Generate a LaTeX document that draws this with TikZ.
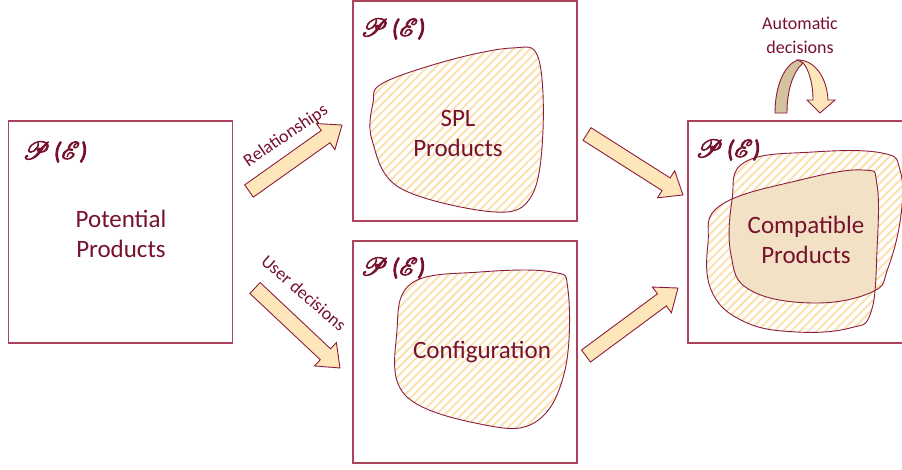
\documentclass[tikz,border=0pt]{standalone}
\usepackage{fontspec}
\setmainfont{Carlito}
\usepackage{mathrsfs}
\usetikzlibrary{calc,patterns.meta}

\definecolor{textred}{RGB}{118,18,46}
\definecolor{framered}{RGB}{172,66,92}
\definecolor{edgered}{RGB}{140,30,60}
\definecolor{hatchor}{RGB}{251,222,170}
\definecolor{arrowfill}{RGB}{253,230,186}
\definecolor{tanback}{RGB}{212,194,158}
\definecolor{tanfill}{RGB}{242,225,197}

\tikzset{
  pebox/.style={draw=framered, line width=1.3pt, minimum width=224pt, minimum height=222pt, inner sep=0pt},
  setlabel/.style={text=textred, font=\fontsize{24}{24}\selectfont, inner sep=0pt},
  maintext/.style={text=textred, font=\fontsize{25}{30}\selectfont, align=center, inner sep=0pt},
  arrowtext/.style={text=textred, font=\fontsize{18}{24}\selectfont, align=center, inner sep=0pt},
  hatched/.style={pattern={Lines[angle=45,distance=6pt,line width=1.8pt]}, pattern color=hatchor},
  blobedge/.style={draw=edgered, line width=0.9pt},
  barrow/.style={draw=edgered, line width=0.9pt, fill=arrowfill, line join=miter},
}

% power-set label P(E), stroked as well as filled for a heavier look
\newcommand\pofe{\special{pdf:literal direct 1 j 0.9 w 2 Tr}%
  $\mathscr{P}$\,\textit{(}$\mathscr{E}$\textit{)}%
  \special{pdf:literal direct 0 Tr 0.4 w}}

% straight block arrow from #1 (tail) to #2 (tip)
\newcommand\blockarrow[2]{%
  \path let \p1=($(#2)-(#1)$) in \pgfextra{%
    \pgfmathparse{atan2(\y1,\x1)}\xdef\barang{\pgfmathresult}%
    \pgfmathparse{veclen(\x1,\y1)}\xdef\barlen{\pgfmathresult}};
  \draw[barrow, shift={(#1)}, rotate=\barang]
    (0pt,7.5pt) -- (\barlen pt-20pt,7.5pt) -- (\barlen pt-20pt,16pt) -- (\barlen pt,0pt)
    -- (\barlen pt-20pt,-16pt) -- (\barlen pt-20pt,-7.5pt) -- (0pt,-7.5pt) -- cycle;
}

\begin{document}
\begin{tikzpicture}[x=1pt,y=-1pt]
\clip (0,0) rectangle (902,469);
\fill[white] (0,0) rectangle (902,469);

% the four sets
\node[pebox] (pot) at (120.5,232) {};
\node[pebox, minimum height=220pt] (spl) at (465,111) {};
\node[pebox] (cfg) at (465,352) {};
\node[pebox] (cmp) at (800,232) {};

% SPL products
\draw[hatched, blobedge] plot[smooth cycle, tension=0.6] coordinates
  {(383,83) (450,60) (512,48) (538,57) (543,130) (532,195) (495,212) (400,188) (372,140) (373,103)};
% configuration
\draw[hatched, blobedge] plot[smooth cycle, tension=0.65] coordinates
  {(412,283) (480,272) (552,272) (568,290) (565,370) (537,421) (485,425) (405,395) (397,330)};

% compatible products: two overlapping regions and their intersection
\def\regionA{plot[smooth cycle, tension=0.7] coordinates
  {(745,162) (813,152) (882,153) (900,170) (901,215) (888,268) (872,292) (813,303) (750,290) (731,255) (732,200)}}
\def\regionB{plot[smooth cycle, tension=0.7] coordinates
  {(708,243) (721,205) (800,180) (863,170) (877,185) (877,250) (871,312) (850,328) (797,332) (745,322) (712,292)}}
\fill[hatched] \regionA;
\fill[hatched] \regionB;
\begin{scope}
  \clip \regionA;
  \fill[tanfill] \regionB;
\end{scope}
\draw[blobedge] \regionA;
\draw[blobedge] \regionB;

% labels
\node[setlabel] (pe1) at (55,152) {\pofe};
\node[setlabel] (pe2) at (393,29) {\pofe};
\node[setlabel] (pe3) at (393,268) {\pofe};
\node[setlabel] (pe4) at (728,150) {\pofe};

\node[maintext] (tpot) at (121,234) {Potential\\Products};
\node[maintext] (tspl) at (458,133) {SPL\\Products};
\node[maintext] (tcfg) at (482,352) {Configuration};
\node[maintext] (tcmp) at (806,240) {Compatible\\Products};

% transitions
\coordinate (r0) at (249,191); \coordinate (r1) at (342,125);
\coordinate (u0) at (255,288); \coordinate (u1) at (340,368);
\coordinate (s0) at (587,134); \coordinate (s1) at (683,195);
\coordinate (c0) at (586,356); \coordinate (c1) at (678,288);
\blockarrow{r0}{r1}
\blockarrow{u0}{u1}
\blockarrow{s0}{s1}
\blockarrow{c0}{c1}

\node[arrowtext, rotate=34] (lrel) at (286,136) {Relationships};
\node[arrowtext, rotate=-41] (luser) at (304,293) {User decisions};
\node[arrowtext] (lauto) at (800,35) {Automatic\\decisions};

% curved arrow for automatic decisions
\draw[barrow] (798,60) .. controls (815,60) and (827,78) .. (828,100) -- (835,100) -- (820,113)
  -- (807,100) -- (813,100) .. controls (813,82) and (808,68) .. (803,63) -- cycle;
\draw[barrow, fill=tanback] (775,113) .. controls (775,85) and (785,64) .. (798,60) -- (803,63)
  .. controls (793,72) and (787,90) .. (787,113) -- cycle;
\end{tikzpicture}
\end{document}
